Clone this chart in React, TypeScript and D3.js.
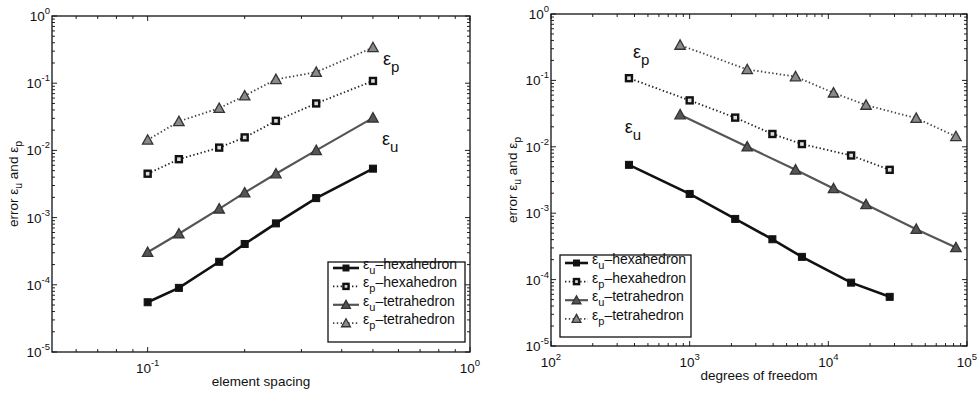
import React from "react";
import * as d3 from "d3";

// element spacing h (ascending) and matching degrees of freedom
const spacing = [0.1, 0.125, 0.1667, 0.2, 0.25, 0.3333, 0.5];
const dofHex = [27700, 14600, 6450, 3950, 2130, 1000, 365];
const dofTet = [83200, 43000, 18700, 10900, 5800, 2600, 853];

// errors, same order as spacing
const errUHex = [5.5e-5, 9.0e-5, 2.2e-4, 4.05e-4, 8.2e-4, 1.95e-3, 5.35e-3];
const errPHex = [4.5e-3, 7.4e-3, 1.1e-2, 1.56e-2, 2.75e-2, 5.0e-2, 0.108];
const errUTet = [3.05e-4, 5.75e-4, 1.35e-3, 2.35e-3, 4.5e-3, 1.0e-2, 3.05e-2];
const errPTet = [1.43e-2, 2.7e-2, 4.25e-2, 6.5e-2, 0.114, 0.146, 0.34];

const seriesSub = ["u", "p", "u", "p"];
const seriesName = ["hexahedron", "hexahedron", "tetrahedron", "tetrahedron"];

const FONT = "'Liberation Sans', Arial, Helvetica, sans-serif";

type Series = {
  sub: string;
  name: string;
  err: number[];
  h: number[];
  dof: number[];
  dotted: boolean;
  marker: "fsq" | "osq" | "dtri" | "ltri";
  stroke: string;
  width: number;
};

const series: Series[] = [
  { sub: seriesSub[0], name: seriesName[0], err: errUHex, h: spacing, dof: dofHex, dotted: false, marker: "fsq", stroke: "#111", width: 2.6 },
  { sub: seriesSub[1], name: seriesName[1], err: errPHex, h: spacing, dof: dofHex, dotted: true, marker: "osq", stroke: "#222", width: 1.8 },
  { sub: seriesSub[2], name: seriesName[2], err: errUTet, h: spacing, dof: dofTet, dotted: false, marker: "dtri", stroke: "#555", width: 2.2 },
  { sub: seriesSub[3], name: seriesName[3], err: errPTet, h: spacing, dof: dofTet, dotted: true, marker: "ltri", stroke: "#444", width: 1.8 },
];

const Marker = ({ kind, x, y, s = 1 }: { kind: string; x: number; y: number; s?: number }) => {
  if (kind === "fsq")
    return <rect x={x - 3.5 * s} y={y - 3.5 * s} width={7 * s} height={7 * s} fill="#111" stroke="#111" />;
  if (kind === "osq")
    return <rect x={x - 3 * s} y={y - 3 * s} width={6 * s} height={6 * s} fill="#ddd" stroke="#111" strokeWidth={2.4} />;
  const r = 5.2 * s;
  const pts = `${x},${y - r} ${x - r},${y + r * 0.8} ${x + r},${y + r * 0.8}`;
  if (kind === "dtri") return <polygon points={pts} fill="#555" stroke="#333" strokeWidth={1.3} />;
  return <polygon points={pts} fill="#8a8a8a" stroke="#333" strokeWidth={1.3} />;
};

type PanelProps = {
  x0: number; x1: number; y0: number; y1: number;
  xDomain: [number, number];
  useDof: boolean;
  xlabel: string;
  ylabelX: number;
  legend: { x: number; y: number; w: number; h: number; row0: number; step: number; lx0: number; lx1: number };
  notes: { sub: string; x: number; y: number }[];
};

const Panel = ({ x0, x1, y0, y1, xDomain, useDof, xlabel, ylabelX, legend, notes }: PanelProps) => {
  const xs = d3.scaleLog().domain(xDomain).range([x0, x1]);
  const ys = d3.scaleLog().domain([1e-5, 1]).range([y1, y0]);
  const isMajor = (v: number) => Math.abs(Math.log10(v) - Math.round(Math.log10(v))) < 1e-9;
  const xt = xs.ticks();
  const yt = ys.ticks();
  const line = d3.line<[number, number]>().x((d) => xs(d[0])).y((d) => ys(d[1]));
  const exp = (v: number) => String(Math.round(Math.log10(v)));

  return (
    <g fontFamily={FONT} fill="#111">
      {/* ticks on all four sides, inward */}
      {xt.map((v, i) => {
        const L = isMajor(v) ? 5 : 3;
        const px = xs(v);
        return (
          <g key={"xt" + i} stroke="#222" strokeWidth={1}>
            <line x1={px} x2={px} y1={y1} y2={y1 - L} />
            <line x1={px} x2={px} y1={y0} y2={y0 + L} />
          </g>
        );
      })}
      {yt.map((v, i) => {
        const L = isMajor(v) ? 5 : 3;
        const py = ys(v);
        return (
          <g key={"yt" + i} stroke="#222" strokeWidth={1}>
            <line x1={x0} x2={x0 + L} y1={py} y2={py} />
            <line x1={x1} x2={x1 - L} y1={py} y2={py} />
          </g>
        );
      })}
      <rect x={x0} y={y0} width={x1 - x0} height={y1 - y0} fill="none" stroke="#111" strokeWidth={1.3} />

      {xt.filter(isMajor).map((v, i) => (
        <text key={"xl" + i} x={xs(v)} y={y1 + 21} textAnchor="middle" fontSize={13.5}>
          10<tspan dy={-7} fontSize={9.5}>{exp(v)}</tspan>
        </text>
      ))}
      {yt.filter(isMajor).map((v, i) => (
        <text key={"yl" + i} x={x0 - 2} y={ys(v) + 5} textAnchor="end" fontSize={13.5}>
          10<tspan dy={-7} fontSize={9.5}>{exp(v)}</tspan>
        </text>
      ))}

      <text x={(x0 + x1) / 2} y={y1 + 34} textAnchor="middle" fontSize={13.5}>{xlabel}</text>
      <text transform={`translate(${ylabelX},${(y0 + y1) / 2}) rotate(-90)`} textAnchor="middle" fontSize={13.5}>
        error ε<tspan dy={4} fontSize={10.5}>u</tspan>
        <tspan dy={-4}> and ε</tspan>
        <tspan dy={4} fontSize={10.5}>p</tspan>
      </text>

      {series.map((s, si) => {
        const pts: [number, number][] = s.err.map((e, i) => [useDof ? s.dof[i] : s.h[i], e]);
        return (
          <g key={"s" + si}>
            <path d={line(pts) || ""} fill="none" stroke={s.stroke} strokeWidth={s.width}
              strokeDasharray={s.dotted ? "1.4 2.4" : undefined} />
            {pts.map((p, i) => (
              <Marker key={i} kind={s.marker} x={xs(p[0])} y={ys(p[1])} />
            ))}
          </g>
        );
      })}

      {notes.map((n, i) => (
        <text key={"n" + i} x={xs(n.x)} y={ys(n.y)} fontSize={18}>
          ε<tspan dy={7} fontSize={15}>{n.sub}</tspan>
        </text>
      ))}

      <rect x={legend.x} y={legend.y} width={legend.w} height={legend.h} fill="#fff" stroke="#111" strokeWidth={1.3} />
      {series.map((s, i) => {
        const cy = legend.row0 + i * legend.step;
        const mx = (legend.lx0 + legend.lx1) / 2;
        return (
          <g key={"lg" + i}>
            <line x1={legend.lx0} x2={legend.lx1} y1={cy} y2={cy} stroke={s.stroke} strokeWidth={s.width}
              strokeDasharray={s.dotted ? "1.4 2.4" : undefined} />
            <Marker kind={s.marker} x={mx} y={cy} s={0.85} />
            <text x={legend.lx1 + 4} y={cy + 1} fontSize={14}>
              ε<tspan dy={5} fontSize={11}>{s.sub}</tspan>
              <tspan dy={-5}>–{s.name}</tspan>
            </text>
          </g>
        );
      })}
    </g>
  );
};

export default function App() {
  return (
    <svg width={977} height={394} style={{ position: "absolute", left: 0, top: 0, background: "#fff" }}>
      <rect width={977} height={394} fill="#fff" />
      <Panel
        x0={52} x1={470} y0={16} y1={352}
        xDomain={[0.0505, 1]}
        useDof={false}
        xlabel="element spacing"
        ylabelX={18}
        legend={{ x: 328, y: 262, w: 137, h: 80, row0: 268, step: 18.4, lx0: 333, lx1: 359 }}
        notes={[{ sub: "p", x: 0.537, y: 0.187 }, { sub: "u", x: 0.533, y: 0.012 }]}
      />
      <Panel
        x0={551} x1={967} y0={14} y1={346}
        xDomain={[100, 100000]}
        useDof={true}
        xlabel="degrees of freedom"
        ylabelX={517}
        legend={{ x: 560, y: 255, w: 131, h: 82, row0: 263, step: 18.6, lx0: 565, lx1: 588 }}
        notes={[{ sub: "p", x: 390, y: 0.217 }, { sub: "u", x: 340, y: 0.016 }]}
      />
    </svg>
  );
}
